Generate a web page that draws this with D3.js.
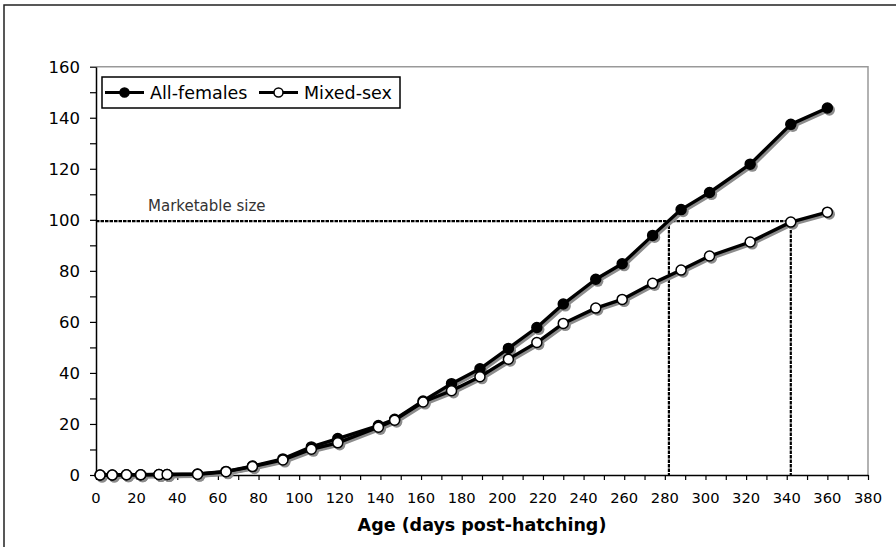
<!DOCTYPE html>
<html>
<head>
<meta charset="utf-8">
<script src="https://cdn.jsdelivr.net/npm/d3@7"></script>
<style>
  body { margin: 0; background: #fff; }
  svg text { font-family: "DejaVu Sans", Verdana, sans-serif; fill: #000; }
</style>
</head>
<body>
<svg class="chart" width="896" height="547"></svg>
<script>
// age in days post-hatching
var days = [2, 8, 15, 22, 31, 35, 50, 64, 77, 92, 106, 119, 139, 147, 161, 175, 189, 203, 217, 230, 246, 259, 274, 288, 302, 322, 342, 360];
var allFemales = [0, 0, 0.1, 0.1, 0.2, 0.2, 0.4, 1.4, 3.5, 6.3, 11.0, 14.3, 19.4, 21.8, 29.0, 35.8, 41.6, 49.6, 57.8, 67.0, 76.7, 82.8, 93.9, 104.0, 110.7, 121.8, 137.4, 143.8];
var mixedSex = [0, 0, 0.1, 0.1, 0.2, 0.2, 0.3, 1.3, 3.3, 5.9, 10.1, 12.6, 18.7, 21.5, 28.6, 33.0, 38.5, 45.4, 51.9, 59.4, 65.4, 68.8, 75.1, 80.3, 85.8, 91.3, 99.1, 103.0];

var seriesNames = ["All-females", "Mixed-sex"];
var xTicks = d3.range(0, 381, 20);
var yTicks = d3.range(0, 161, 20);

var marketSize = 99.5;
var marketDays = [282, 342];
var marketLabel = "Marketable size";
var xTitle = "Age (days post-hatching)";

var svg = d3.select(".chart");

var plotL = 96, plotR = 868, plotT = 66.7, plotB = 475;

var x = d3.scaleLinear().domain([0, 380]).range([plotL, plotR]);
var y = d3.scaleLinear().domain([0, 160]).range([plotB, plotT]);

// outer frame
svg.append("rect")
  .attr("x", 4).attr("y", 5).attr("width", 900).attr("height", 560)
  .attr("fill", "none").attr("stroke", "#222").attr("stroke-width", 1.5);

// plot frame (gray top/right)
svg.append("path")
  .attr("d", "M" + plotL + "," + plotT + "H" + plotR + "V" + plotB)
  .attr("fill", "none").attr("stroke", "#999").attr("stroke-width", 1.5);

// axes
var xAxis = svg.append("g")
  .attr("transform", "translate(0," + plotB + ")")
  .call(d3.axisBottom(x).tickValues(d3.range(0, 381, 10)).tickSize(5).tickSizeOuter(0).tickFormat(""));
xAxis.select(".domain").attr("stroke-width", 1.5);
xAxis.selectAll(".tick line").attr("stroke-width", 1.2);

svg.append("g").selectAll("text")
  .data(xTicks)
  .enter().append("text")
  .attr("x", function(d) { return x(d); })
  .attr("y", 502.5)
  .attr("text-anchor", "middle")
  .style("font-size", "14.7px")
  .text(function(d) { return d; });

var yAxis = svg.append("g")
  .attr("transform", "translate(" + plotL + ",0)")
  .call(d3.axisLeft(y).tickValues(d3.range(0, 161, 10)).tickSize(6).tickSizeOuter(0).tickFormat(""));
yAxis.select(".domain").attr("stroke-width", 1.5);
yAxis.selectAll(".tick line").attr("stroke-width", 1.2);

svg.append("g").selectAll("text")
  .data(yTicks)
  .enter().append("text")
  .attr("x", 80)
  .attr("y", function(d) { return y(d) + 6; })
  .attr("text-anchor", "end")
  .style("font-size", "16.5px")
  .text(function(d) { return d; });

// x title
svg.append("text")
  .attr("x", (plotL + plotR) / 2)
  .attr("y", 530.7)
  .attr("text-anchor", "middle")
  .style("font-size", "17.5px")
  .style("font-weight", "bold")
  .text(xTitle);

// marketable size lines
var dash = "3.5,1";
svg.append("line")
  .attr("x1", x(0)).attr("x2", x(marketDays[1]))
  .attr("y1", y(marketSize)).attr("y2", y(marketSize))
  .attr("stroke", "#000").attr("stroke-width", 2.2).attr("stroke-dasharray", dash);
svg.append("g").selectAll("line")
  .data(marketDays)
  .enter().append("line")
  .attr("x1", function(d) { return x(d); }).attr("x2", function(d) { return x(d); })
  .attr("y1", y(marketSize)).attr("y2", y(0))
  .attr("stroke", "#000").attr("stroke-width", 2.2).attr("stroke-dasharray", dash);
svg.append("text")
  .attr("x", 148).attr("y", 210.8)
  .style("font-size", "15px").style("fill", "#333")
  .text(marketLabel);

// series
var series = [
  { name: seriesNames[0], values: allFemales, fill: "#000" },
  { name: seriesNames[1], values: mixedSex, fill: "#fff" }
];

var line = d3.line()
  .x(function(d) { return x(d[0]); })
  .y(function(d) { return y(d[1]); });

// shadows first
var shadow = svg.append("g").attr("transform", "translate(2,2)");
series.forEach(function(s) {
  var pts = days.map(function(d, i) { return [d, s.values[i]]; });
  shadow.append("path").datum(pts)
    .attr("d", line).attr("fill", "none")
    .attr("stroke", "#8c8c8c").attr("stroke-width", 3.4).attr("stroke-linejoin", "round");
  shadow.selectAll(null).data(pts).enter().append("circle")
    .attr("cx", function(d) { return x(d[0]); })
    .attr("cy", function(d) { return y(d[1]); })
    .attr("r", 5.6).attr("fill", "#8c8c8c");
});

series.forEach(function(s) {
  var pts = days.map(function(d, i) { return [d, s.values[i]]; });
  svg.append("path").datum(pts)
    .attr("d", line).attr("fill", "none")
    .attr("stroke", "#000").attr("stroke-width", 3.4).attr("stroke-linejoin", "round");
  svg.append("g").selectAll("circle").data(pts).enter().append("circle")
    .attr("cx", function(d) { return x(d[0]); })
    .attr("cy", function(d) { return y(d[1]); })
    .attr("r", 5)
    .attr("fill", s.fill).attr("stroke", "#000").attr("stroke-width", 1.5);
});

// legend
var legend = svg.append("g");
legend.append("rect")
  .attr("x", 102).attr("y", 77).attr("width", 298).attr("height", 31)
  .attr("fill", "#fff").attr("stroke", "#000").attr("stroke-width", 1.5);
var legendX = [105, 259];
series.forEach(function(s, i) {
  var lx = legendX[i];
  legend.append("line")
    .attr("x1", lx).attr("x2", lx + 39).attr("y1", 92.5).attr("y2", 92.5)
    .attr("stroke", "#000").attr("stroke-width", 2.8);
  legend.append("circle")
    .attr("cx", lx + 19.5).attr("cy", 92.5).attr("r", 4.5)
    .attr("fill", s.fill).attr("stroke", "#000").attr("stroke-width", 1.5);
  legend.append("text")
    .attr("x", lx + 45).attr("y", 98.5)
    .style("font-size", "17.5px")
    .text(s.name);
});
</script>
</body>
</html>
